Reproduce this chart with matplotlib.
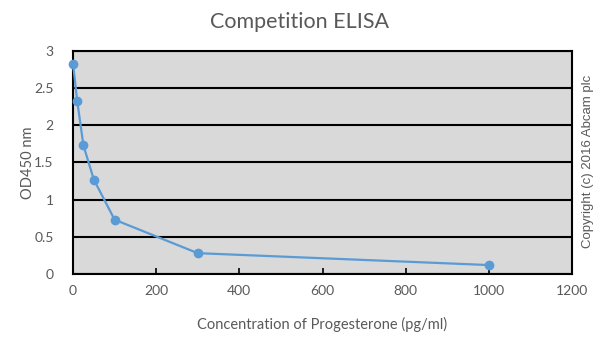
import matplotlib
matplotlib.use('Agg')
import matplotlib.pyplot as plt

# concentration (pg/ml) and absorbance
conc = [0, 10, 25, 50, 100, 300, 1000]
od450 = [2.83, 2.33, 1.73, 1.27, 0.73, 0.28, 0.12]

xticks = [0, 200, 400, 600, 800, 1000, 1200]
yticks = [0, 0.5, 1, 1.5, 2, 2.5, 3]

plt.rcParams['font.family'] = ['Lato', 'DejaVu Sans']

fig = plt.figure(figsize=(6, 3.37), dpi=100)
ax = fig.add_axes([0.1217, 0.187, 0.8316, 0.662])
ax.set_facecolor('#d9d9d9')

ax.plot(conc, od450, color='#5b9bd5', linewidth=1.6, marker='o',
        markersize=6, zorder=3, clip_on=False)

ax.set_xlim(0, 1200)
ax.set_ylim(0, 3)
ax.set_xticks(xticks)
ax.set_yticks(yticks)
ax.set_yticklabels(['0', '0.5', '1', '1.5', '2', '2.5', '3'])
ax.yaxis.grid(True, color='black', linewidth=1.5)
ax.set_axisbelow(True)
for s in ax.spines.values():
    s.set_color('black')
    s.set_linewidth(1.5)

ax.tick_params(axis='x', direction='in', length=4, width=1.2,
               colors='black', labelcolor='#595959', labelsize=10, pad=8)
ax.tick_params(axis='y', length=0, labelcolor='#595959', labelsize=10, pad=14)

ax.set_xlabel('Concentration of Progesterone (pg/ml)', color='#595959',
              fontsize=10.5, labelpad=14)
ax.set_ylabel('OD450 nm', color='#595959', fontsize=10.5, labelpad=-1)
fig.text(0.5, 0.935, 'Competition ELISA', ha='center', va='center',
         color='#595959', fontsize=15.5)
fig.text(0.98, 0.52, 'Copyright (c) 2016 Abcam plc', rotation=90,
         ha='center', va='center', color='#595959', fontsize=9.5,
         family='Liberation Sans')

fig.savefig('out.png', dpi=100)
